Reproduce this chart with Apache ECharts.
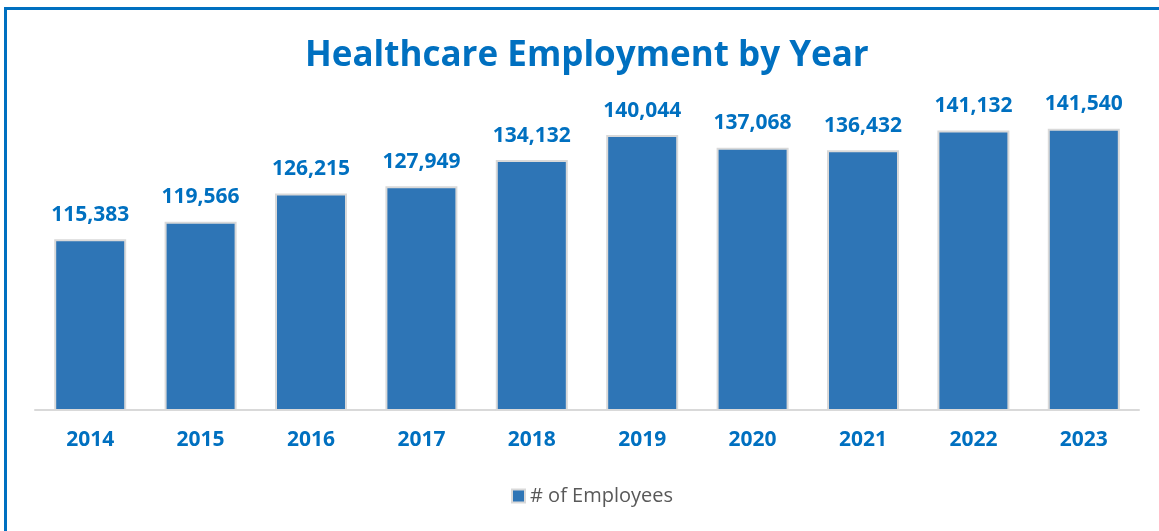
<!DOCTYPE html>
<html>
<head>
<meta charset="utf-8">
<script src="https://cdn.jsdelivr.net/npm/echarts@6/dist/echarts.min.js"></script>
<style>
  html, body { margin: 0; padding: 0; background: #ffffff; overflow: hidden; }
  #frame { position: absolute; left: 4px; top: 7px; width: 1200px; height: 600px;
           border-top: 3px solid #0070C0; border-left: 3px solid #0070C0; box-sizing: border-box; }
  #chart { position: absolute; left: 0; top: 0; width: 1159px; height: 531px; }
</style>
</head>
<body>
<div id="frame"></div>
<div id="chart"></div>
<script>
const titleText = 'Healthcare Employment by Year';
const seriesName = '# of Employees';
const categories = ['2014', '2015', '2016', '2017', '2018', '2019', '2020', '2021', '2022', '2023'];
const employees = [115383, 119566, 126215, 127949, 134132, 140044, 137068, 136432, 141132, 141540];

const chart = echarts.init(document.getElementById('chart'), null, { renderer: 'canvas' });
const blueText = '#0070C0';
chart.setOption({
  backgroundColor: 'transparent',
  animation: false,
  title: {
    text: titleText,
    left: 300,
    top: 34,
    textStyle: { fontFamily: 'Open Sans', fontWeight: 'bold', fontSize: 35, color: blueText }
  },
  legend: {
    data: [seriesName],
    left: 506,
    top: 481,
    icon: 'rect',
    itemWidth: 13,
    itemHeight: 13,
    itemGap: 6,
    textStyle: { fontFamily: 'Open Sans', fontSize: 20, color: '#595959' }
  },
  grid: { left: 35, right: 20, top: 93, bottom: 121, containLabel: false },
  xAxis: {
    type: 'category',
    data: categories,
    axisLine: { show: true, lineStyle: { color: '#d9d9d9', width: 2 } },
    axisTick: { show: false },
    axisLabel: { margin: 20, fontFamily: 'Open Sans', fontWeight: 'bold', fontSize: 21, color: blueText }
  },
  yAxis: {
    type: 'value',
    min: 75000,
    max: 150000,
    show: false,
    splitLine: { show: false }
  },
  series: [{
    name: seriesName,
    type: 'bar',
    data: employees,
    barWidth: 72,
    itemStyle: { color: '#2E75B6', borderColor: '#d9d9d9', borderWidth: 2 },
    label: {
      show: true,
      position: 'top',
      distance: 14,
      fontFamily: 'Open Sans',
      fontWeight: 'bold',
      fontSize: 21,
      color: blueText,
      formatter: p => p.value.toLocaleString('en-US')
    }
  }]
});
</script>
</body>
</html>
